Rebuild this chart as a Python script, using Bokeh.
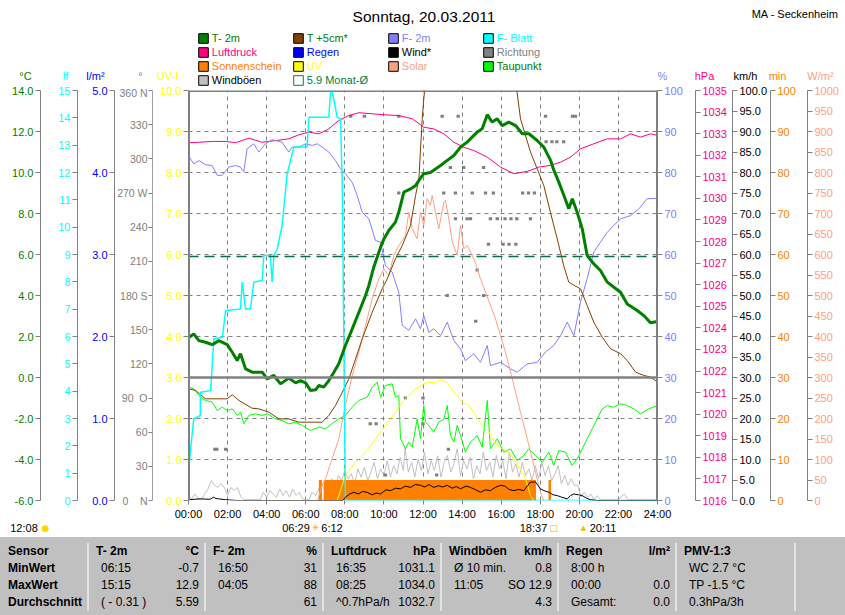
from bokeh.plotting import figure
from bokeh.models import Range1d, FixedTicker, Span, Label, Legend, LegendItem, Div, LinearAxis
from bokeh.layouts import column, row
from bokeh.embed import file_html
from bokeh.resources import INLINE

FONT = "Liberation Sans"
GRAY = "#808080"
NB = "\u00a0"

# ---------------- data ----------------
hour_ticks = [0, 2, 4, 6, 8, 10, 12, 14, 16, 18, 20, 22, 24]
hour_labels = ["00:00", "02:00", "04:00", "06:00", "08:00", "10:00", "12:00",
               "14:00", "16:00", "18:00", "20:00", "22:00", "24:00"]

temp_ticks = [-6, -4, -2, 0, 2, 4, 6, 8, 10, 12, 14]
lf_ticks = list(range(0, 16))
rain_ticks = [0, 1, 2, 3, 4, 5]
deg_ticks = [0, 30, 60, 90, 120, 150, 180, 210, 240, 270, 300, 330, 360]
deg_labels = ["0" + NB * 4 + "N", "30", "60", "90" + NB * 2 + "O", "120", "150", "180 S", "210", "240",
              "270 W", "300", "330", "360 N"]
uv_ticks = [0, 1, 2, 3, 4, 5, 6, 7, 8, 9, 10]
pct_ticks = [0, 10, 20, 30, 40, 50, 60, 70, 80, 90, 100]
hpa_ticks = list(range(1016, 1036))
kmh_ticks = list(range(0, 101, 5))
min_ticks = [0, 10, 20, 30, 40, 50, 60, 70, 80, 90, 100]
wm2_ticks = list(range(0, 1001, 50))

# T- 2m  (hour, °C)
t2m = [(0.0, 1.94), (0.27, 2.13), (0.53, 1.8), (0.87, 1.72), (1.21, 1.6), (1.55, 1.8), (1.98, 1.6),
       (2.24, 1.23), (2.49, 0.83), (2.66, 1.16), (2.92, 0.42), (3.26, 0.26), (3.77, 0.26), (4.03, -0.07),
       (4.37, 0.1), (4.71, -0.31), (5.13, -0.03), (5.48, -0.26), (5.73, -0.15), (5.99, -0.26),
       (6.24, -0.63), (6.5, -0.6), (6.67, -0.39), (6.92, -0.47), (7.18, -0.15), (7.44, 0.26),
       (7.69, 0.67), (8.03, 1.56), (8.38, 2.37), (8.72, 3.18), (9.06, 4.0), (9.23, 4.49), (9.48, 5.38),
       (9.83, 6.36), (10.0, 6.76), (10.25, 7.17), (10.59, 7.58), (10.76, 8.06), (11.02, 9.04),
       (11.36, 9.2), (11.62, 9.37), (11.79, 9.61), (12.04, 9.94), (12.38, 10.0), (12.9, 10.34),
       (13.24, 10.59), (13.58, 10.83), (13.92, 11.24), (14.26, 11.48), (14.77, 11.97), (15.03, 12.13),
       (15.29, 12.82), (15.54, 12.46), (15.8, 12.62), (16.05, 12.29), (16.39, 12.46), (16.74, 12.29),
       (17.08, 11.89), (17.42, 11.89), (17.84, 11.56), (18.18, 11.24), (18.53, 10.59), (18.7, 10.1),
       (18.95, 9.53), (19.21, 8.88), (19.46, 8.23), (19.64, 8.72), (19.89, 8.06), (20.15, 7.25),
       (20.4, 5.95), (20.74, 5.54), (21.08, 5.22), (21.43, 4.65), (21.77, 4.4), (22.11, 4.16),
       (22.45, 3.59), (22.96, 3.27), (23.3, 3.02), (23.64, 2.67), (24.0, 2.73)]

# T +5cm* (hour, °C)
t5cm = [(0.0, -0.55), (0.36, -0.63), (0.87, -1.04), (1.98, -1.04), (2.24, -0.84), (2.58, -1.12),
        (3.26, -1.5), (3.6, -1.53), (4.11, -1.69), (4.62, -2.02), (5.13, -2.02), (5.65, -2.18),
        (6.84, -2.18), (7.18, -1.85), (7.52, -1.37), (7.87, -0.72), (8.2, -0.08), (8.55, 0.91),
        (8.89, 1.89), (9.4, 3.18), (9.91, 4.33), (10.17, 4.81), (10.59, 5.79), (10.94, 6.44),
        (11.36, 7.41), (11.62, 8.88), (11.79, 9.69), (11.96, 12.6), (12.04, 13.6), (12.3, 16.0),
        (12.8, 19.5), (13.5, 22.0), (14.3, 23.5), (15.2, 22.5), (16.0, 19.5), (16.6, 15.5),
        (16.8, 14.0), (16.99, 12.62), (17.5, 11.0), (18.18, 9.37), (18.52, 8.06), (18.87, 6.76),
        (19.2, 5.46), (19.46, 4.65), (19.72, 4.5), (20.06, 4.33), (20.4, 3.51), (20.74, 2.7),
        (21.17, 1.97), (21.6, 1.4), (22.11, 1.16), (22.45, 0.83), (22.88, 0.26), (23.3, 0.1),
        (23.64, 0.02), (24.0, -0.22)]

# Taupunkt (hour, °C)
taupunkt = [(0.0, -0.47), (0.27, -0.55), (0.61, -0.96), (0.87, -1.12), (1.21, -1.2), (1.47, -1.61),
            (1.72, -1.45), (1.98, -1.61), (2.24, -1.53), (2.49, -1.85), (2.66, -1.69), (2.83, -2.26),
            (3.09, -1.85), (3.43, -1.77), (3.77, -1.85), (4.03, -1.77), (4.45, -2.02), (4.79, -2.1),
            (5.13, -2.26), (5.48, -2.18), (5.82, -2.34), (6.24, -2.59), (6.67, -2.42), (7.01, -2.5),
            (7.44, -2.18), (7.69, -2.02), (8.03, -1.85), (8.38, -1.45), (8.72, -1.12), (9.14, -0.96),
            (9.4, -0.47), (9.66, -0.23), (9.83, -0.96), (10.08, -0.39), (10.42, -0.31), (10.59, -0.96),
            (10.76, -0.88), (10.85, -2.99), (11.1, -3.48), (11.27, -3.15), (11.45, -3.4), (11.7, -2.02),
            (11.87, -2.99), (12.04, -1.37), (12.13, -2.18), (12.3, -2.34), (12.55, -2.67), (12.81, -2.18),
            (13.07, -2.02), (13.24, -1.37), (13.41, -2.83), (13.58, -3.15), (13.75, -2.34), (13.92, -2.83),
            (14.17, -3.64), (14.43, -3.15), (14.77, -2.83), (15.03, -3.4), (15.29, -1.12), (15.45, -3.48),
            (15.8, -2.99), (16.13, -3.64), (16.48, -3.48), (16.82, -4.05), (17.16, -3.8), (17.41, -3.48),
            (17.76, -3.8), (18.1, -4.13), (18.44, -3.64), (18.69, -4.29), (18.95, -3.56), (19.29, -3.64),
            (19.63, -4.29), (19.89, -3.97), (20.15, -3.48), (20.4, -2.99), (20.66, -2.5), (20.91, -2.02),
            (21.17, -1.53), (21.43, -1.37), (21.76, -1.45), (22.11, -1.28), (22.45, -1.37), (22.79, -1.53),
            (23.13, -1.77), (23.55, -1.53), (23.98, -1.37)]

# F- 2m (hour, %)
f2m = [(0.0, 84.1), (0.27, 82.1), (0.53, 82.9), (0.87, 81.9), (1.21, 81.7), (1.47, 79.3), (1.72, 79.3),
       (2.06, 81.3), (2.41, 81.7), (2.66, 81.3), (2.83, 80.2), (3.0, 85.8), (3.34, 87.0), (3.6, 85.0),
       (3.94, 87.0), (4.28, 88.0), (4.79, 87.4), (5.13, 85.0), (5.31, 86.2), (5.65, 86.2), (5.99, 87.0),
       (6.33, 86.6), (6.59, 87.0), (6.84, 86.2), (7.18, 85.0), (7.52, 82.9), (7.78, 80.9), (8.03, 79.7),
       (8.38, 77.6), (8.63, 74.4), (8.89, 70.3), (9.23, 68.7), (9.57, 63.4), (9.83, 63.0), (10.08, 57.3),
       (10.42, 55.7), (10.76, 50.8), (10.94, 42.7), (11.27, 41.5), (11.62, 44.3), (11.87, 41.9),
       (12.04, 45.1), (12.3, 41.0), (12.55, 41.9), (12.9, 40.2), (13.24, 43.5), (13.58, 39.0),
       (13.92, 37.0), (14.17, 34.1), (14.6, 35.8), (14.94, 33.7), (15.29, 37.8), (15.45, 32.9),
       (15.97, 33.7), (16.48, 32.1), (16.82, 31.3), (17.33, 33.3), (17.84, 33.7), (18.27, 36.2),
       (18.69, 37.8), (19.04, 40.2), (19.38, 43.5), (19.72, 40.2), (20.06, 48.4), (20.4, 54.1),
       (20.74, 60.6), (21.08, 63.0), (21.43, 65.4), (21.76, 67.1), (22.11, 68.7), (22.62, 69.5),
       (23.04, 71.1), (23.47, 73.6), (23.98, 73.7)]

# F- Blatt (hour, leaf wetness)
fblatt = [(0.0, 0.98), (0.09, 1.77), (0.27, 2.99), (0.6, 3.11), (0.61, 3.96), (1.13, 4.02), (1.3, 5.92),
          (1.73, 5.97), (1.9, 6.95), (2.66, 7.01), (2.75, 7.99), (2.92, 7.01), (3.17, 7.01), (3.34, 7.99),
          (3.77, 8.05), (3.85, 8.96), (4.19, 8.96), (4.28, 7.99), (4.37, 8.96), (4.54, 9.2), (4.79, 10.06),
          (5.05, 11.95), (5.39, 12.93), (6.07, 12.93), (6.16, 14.02), (7.18, 14.02), (7.27, 14.94),
          (7.35, 15.0), (7.61, 14.02), (7.78, 13.96), (7.87, 11.52), (8.03, 0.06), (8.1, 0.0), (24.0, 0.0)]

# Luftdruck (hour, hPa)
luftdruck = [(0.0, 1032.58), (0.53, 1032.6), (1.21, 1032.64), (1.9, 1032.64), (2.41, 1032.58),
             (3.1, 1032.79), (3.77, 1032.6), (4.45, 1032.68), (5.13, 1032.76), (5.65, 1032.95),
             (6.16, 1033.07), (6.67, 1032.99), (7.18, 1033.22), (7.69, 1033.61), (8.2, 1033.84),
             (8.72, 1033.97), (9.4, 1033.92), (10.08, 1033.87), (10.76, 1033.84), (11.45, 1033.69),
             (12.04, 1033.3), (12.55, 1033.22), (13.07, 1032.99), (13.58, 1032.6), (14.09, 1032.37),
             (14.6, 1032.22), (15.29, 1031.91), (15.97, 1031.45), (16.65, 1031.14), (17.33, 1031.25),
             (17.92, 1031.45), (18.52, 1031.53), (19.04, 1031.68), (19.55, 1031.91), (20.06, 1032.3),
             (20.74, 1032.53), (21.43, 1032.76), (22.11, 1032.76), (22.62, 1032.99), (23.13, 1032.84),
             (23.64, 1032.99), (24.0, 1032.92)]

# Solar (hour, W/m²)
solar = [(6.6, 0), (6.84, 37), (7.01, 53), (7.35, 102), (7.69, 150), (8.03, 232), (8.38, 305), (8.72, 362),
         (9.06, 427), (9.4, 492), (9.74, 541), (10.0, 565), (10.25, 549), (10.51, 598), (10.76, 622),
         (11.1, 646), (11.27, 703), (11.45, 663), (11.7, 638), (11.87, 703), (12.04, 671), (12.21, 736),
         (12.38, 720), (12.47, 744), (12.64, 703), (12.81, 663), (13.07, 728), (13.15, 732), (13.32, 687),
         (13.5, 630), (13.75, 598), (13.92, 671), (14.09, 614), (14.26, 622), (14.43, 606), (14.68, 581),
         (14.94, 541), (15.2, 508), (15.45, 476), (15.71, 443), (15.97, 402), (16.22, 362), (16.48, 313),
         (16.74, 264), (16.99, 215), (17.25, 167), (17.5, 118), (17.76, 69), (18.01, 20), (18.18, 0)]

# UV (hour, UV-index)
uv = [(7.6, 0.0), (7.69, 0.12), (8.03, 0.61), (8.55, 0.93), (9.06, 1.18), (9.57, 1.5), (10.08, 1.83),
      (10.59, 2.15), (10.94, 2.4), (11.27, 2.56), (11.62, 2.72), (12.04, 2.85), (12.3, 2.89), (12.55, 2.87),
      (12.9, 2.93), (13.24, 2.89), (13.5, 2.68), (13.75, 2.56), (14.0, 2.4), (14.35, 2.32), (14.69, 2.07),
      (15.03, 1.83), (15.37, 1.67), (15.71, 1.38), (16.05, 1.26), (16.39, 1.18), (16.74, 0.93),
      (17.08, 0.69), (17.25, 0.53), (17.5, 0.12), (17.67, 0.0)]

# Wind* (hour, km/h)
wind = [(0.0, 0.2), (0.6, 0.4), (1.1, 0.3), (1.28, 0.8), (1.4, 0.5), (1.54, 0.4), (1.89, 0.2), (2.49, 0.0),
        (7.9, 0.0), (8.03, 0.8), (8.25, 1.6), (8.46, 2.0), (8.7, 1.6), (8.9, 2.2), (9.14, 2.0), (9.4, 1.4),
        (9.6, 1.8), (9.83, 1.6), (10.1, 2.6), (10.34, 2.4), (10.6, 3.0), (10.85, 2.85), (11.1, 3.5),
        (11.36, 3.2), (11.6, 3.9), (11.87, 3.7), (12.1, 3.3), (12.3, 3.9), (12.55, 3.2), (12.8, 3.6),
        (13.0, 3.3), (13.24, 3.7), (13.5, 3.0), (13.7, 3.4), (13.92, 2.85), (14.2, 3.5), (14.43, 3.2),
        (14.7, 2.6), (14.94, 2.0), (15.2, 2.6), (15.45, 2.4), (15.7, 3.2), (15.97, 3.7), (16.2, 3.5),
        (16.4, 2.7), (16.65, 2.4), (16.9, 2.7), (17.16, 2.4), (17.35, 3.6), (17.5, 4.5), (17.76, 4.5),
        (18.01, 2.85), (18.2, 2.4), (18.44, 2.0), (18.65, 1.4), (18.87, 1.2), (19.1, 0.8), (19.38, 0.4),
        (19.55, 1.2), (19.72, 1.6), (19.95, 1.4), (20.15, 1.2), (20.35, 0.6), (20.57, 0.2), (20.91, 0.0),
        (24.0, 0.0)]

# Windböen (hour, km/h)
boeen = [(0.0, 1.2), (0.17, 0.5), (0.33, 1.6), (0.5, 0.4), (0.67, 0.3), (0.83, 1.6), (1.0, 2.8), (1.17, 4.9),
         (1.33, 3.7), (1.5, 3.2), (1.67, 4.1), (1.83, 3.2), (2.0, 1.2), (2.17, 3.2), (2.33, 2.4), (2.5, 3.2),
         (2.67, 1.0), (2.83, 0.2), (3.0, 0.2), (3.5, 0.2), (3.67, 0.2), (3.83, 2.0), (4.0, 0.8), (4.17, 2.4),
         (4.33, 1.6), (4.5, 0.8), (4.67, 2.8), (4.83, 1.2), (5.0, 2.4), (5.17, 0.8), (5.33, 2.8), (5.5, 1.2),
         (5.67, 2.0), (5.83, 0.4), (6.0, 0.2), (6.17, 0.2), (6.33, 2.0), (6.5, 1.2), (6.67, 2.8), (6.83, 4.1),
         (7.0, 2.0), (7.17, 4.1), (7.33, 5.3), (7.5, 3.2), (7.67, 6.1), (7.83, 4.9), (8.0, 7.3), (8.17, 5.3),
         (8.33, 6.5), (8.5, 4.1), (8.67, 7.7), (8.83, 5.7), (9.0, 8.1), (9.17, 4.9), (9.33, 6.9), (9.5, 9.3),
         (9.67, 5.3), (9.83, 7.7), (10.0, 6.1), (10.17, 9.7), (10.33, 5.7), (10.5, 8.5), (10.67, 6.5),
         (10.83, 10.5), (11.0, 7.3), (11.08, 12.9), (11.25, 6.9), (11.42, 9.3), (11.58, 5.7), (11.75, 10.1),
         (11.92, 7.3), (12.08, 11.8), (12.25, 6.5), (12.42, 9.7), (12.58, 7.3), (12.75, 10.9), (12.92, 5.7),
         (13.08, 9.3), (13.25, 11.0), (13.42, 6.9), (13.58, 8.9), (13.75, 12.6), (13.92, 6.1), (14.08, 9.7),
         (14.25, 7.7), (14.42, 10.5), (14.58, 5.3), (14.75, 8.5), (14.92, 6.5), (15.08, 11.8), (15.25, 7.3),
         (15.42, 9.3), (15.58, 5.7), (15.75, 11.0), (15.92, 7.7), (16.08, 9.7), (16.25, 5.3), (16.42, 11.8),
         (16.58, 6.9), (16.75, 8.9), (16.92, 5.7), (17.08, 9.3), (17.25, 6.1), (17.42, 7.7), (17.58, 4.9),
         (17.75, 8.5), (17.92, 5.3), (18.08, 9.3), (18.25, 6.1), (18.42, 8.5), (18.58, 4.9), (18.75, 6.5),
         (18.92, 8.5), (19.08, 4.1), (19.25, 6.1), (19.42, 3.7), (19.58, 5.3), (19.75, 3.7), (19.92, 3.7),
         (20.08, 0.8), (20.25, 2.0), (20.42, 0.8), (20.58, 1.6), (20.75, 0.2), (20.92, 1.2), (21.08, 0.2),
         (22.0, 0.2), (22.3, 1.6), (22.5, 0.2), (24.0, 0.2)]

# Richtung (hour, degrees)
richtung = [(1.35, 45), (1.45, 45), (1.9, 45), (8.3, 337.5), (9.0, 337.5), (9.3, 67.5), (9.6, 67.5),
            (10.08, 22.5), (10.76, 337.5), (10.76, 270), (11.1, 90), (12.0, 90), (12.0, 67.5), (12.7, 22.5),
            (12.98, 337.5), (13.06, 270), (13.24, 180), (13.3, 45), (13.4, 292.5), (13.66, 270),
            (13.66, 247.5), (13.8, 337.5), (14.08, 292.5), (14.26, 247.5), (14.43, 247.5), (14.52, 270),
            (14.7, 157.5), (14.77, 202.5), (15.1, 292.5), (15.1, 180), (15.2, 270), (15.35, 225),
            (15.45, 247.5), (15.6, 270), (15.8, 247.5), (16.1, 225), (16.2, 247.5), (16.4, 225), (16.5, 247.5),
            (16.75, 225), (16.8, 247.5), (17.1, 270), (17.4, 270), (17.5, 247.5), (17.7, 270), (18.27, 337.5),
            (18.3, 315), (18.6, 315), (18.85, 315), (19.2, 315), (19.65, 337.5), (19.8, 337.5)]

# Sonnenschein (start hour, end hour, minutes)
sun_start = [6.67, 6.92, 18.42]
sun_end = [6.83, 17.78, 18.55]
sun_min = [5, 5, 5]

monat_mean = 5.9

# table below the chart
table_head = ["Sensor", ("T- 2m", "°C"), ("F- 2m", "%"), ("Luftdruck", "hPa"), ("Windböen", "km/h"),
              ("Regen", "l/m²"), ("PMV-1:3", "")]
table_rows = [
    ["MinWert", ("06:15", "-0.7"), ("16:50", "31"), ("16:35", "1031.1"), ("Ø 10 min.", "0.8"),
     ("8:00 h", ""), ("WC 2.7 °C", "")],
    ["MaxWert", ("15:15", "12.9"), ("04:05", "88"), ("08:25", "1034.0"), ("11:05", "SO 12.9"),
     ("00:00", "0.0"), ("TP -1.5 °C", "")],
    ["Durchschnitt", ("( - 0.31 )", "5.59"), ("", "61"), ("^0.7hPa/h", "1032.7"), ("", "4.3"),
     ("Gesamt:", "0.0"), ("0.3hPa/3h", "")],
]


def xs(pairs):
    return [a for a, b in pairs]


def ys(pairs):
    return [b for a, b in pairs]


# ---------------- geometry (page pixels; Bokeh's page has no body margin) ----------------
W_TOTAL = 845
HEAD_H = 86                  # header: title, legend, unit labels
PLOT_H = 436                 # row with axes and plot
TOP_B, BOT_B = 4, 22         # -> frame from y=90 to y=500
STRIP_H = 15                 # sunrise / sunset strip
TABLE_H = 78
STRIP_TOP = HEAD_H + PLOT_H


def base_fig(width, height, **kw):
    return figure(width=width, height=height, output_backend="svg", toolbar_location=None,
                  outline_line_color=None, background_fill_color="white",
                  border_fill_color="white", **kw)


def style_axis(ax, ticks, labels, color, size="11px", standoff=2, tick_out=5):
    ax.ticker = FixedTicker(ticks=ticks)
    ax.major_label_overrides = dict(zip(ticks, labels))
    ax.major_label_text_color = color
    ax.major_label_text_font = FONT
    ax.major_label_text_font_size = size
    ax.major_label_standoff = standoff
    ax.axis_line_color = GRAY
    ax.major_tick_line_color = GRAY
    ax.major_tick_in = 0
    ax.major_tick_out = tick_out
    ax.minor_tick_line_color = None


def axis_fig(width, side, rng, ticks, labels, color, size="11px", standoff=2, tick_out=5):
    if side == "left":
        kw = dict(y_axis_location="left", min_border_left=width - 1, min_border_right=0)
    else:
        kw = dict(y_axis_location="right", min_border_left=0, min_border_right=width - 1)
    f = base_fig(width, PLOT_H, x_range=Range1d(0, 1), y_range=Range1d(*rng), x_axis_location=None,
                 min_border_top=TOP_B, min_border_bottom=BOT_B, **kw)
    style_axis(f.yaxis[0], ticks, labels, color, size, standoff, tick_out)
    f.grid.visible = False
    return f


# ---------------- axes at the sides ----------------
f_temp = axis_fig(41, "left", (-6, 14), temp_ticks, [f"{t:.1f}" for t in temp_ticks], "#008000")
f_lf = axis_fig(37, "left", (0, 15), lf_ticks, [str(t) for t in lf_ticks], "#00ffff")
f_rain = axis_fig(37, "left", (0, 5), rain_ticks, [f"{t:.1f}" for t in rain_ticks], "#0000ff")
f_deg = axis_fig(37, "left", (0, 360), deg_ticks, deg_labels, GRAY, size="10.5px", standoff=1, tick_out=4)
f_hpa = axis_fig(38, "right", (1016, 1035), hpa_ticks, [str(t) for t in hpa_ticks], "#ff0080")
f_kmh = axis_fig(37, "right", (0, 100), kmh_ticks, [f"{t:.1f}" for t in kmh_ticks], "#000000")
f_min = axis_fig(37, "right", (0, 100), min_ticks, [str(t) for t in min_ticks], "#ff8000")
f_wm2 = axis_fig(39, "right", (0, 1000), wm2_ticks, [str(t) for t in wm2_ticks], "#ffa080")

# ---------------- main plot ----------------
MAIN_W = 36 + 469 + 37
p = base_fig(MAIN_W, PLOT_H, x_range=Range1d(0, 24), y_range=Range1d(0, 10),
             min_border_left=36, min_border_right=37, min_border_top=TOP_B, min_border_bottom=BOT_B)
p.extra_y_ranges = {
    "temp": Range1d(-6, 14), "lf": Range1d(0, 15), "deg": Range1d(0, 360), "pct": Range1d(0, 100),
    "hpa": Range1d(1016, 1035), "kmh": Range1d(0, 100), "min": Range1d(0, 100), "wm2": Range1d(0, 1000),
}
style_axis(p.yaxis[0], uv_ticks, [f"{t:.1f}" for t in uv_ticks], "#ffff00")
pct_axis = LinearAxis(y_range_name="pct")
style_axis(pct_axis, pct_ticks, [str(t) for t in pct_ticks], "#8080ff")
p.add_layout(pct_axis, "right")

xa = p.xaxis[0]
xa.ticker = FixedTicker(ticks=hour_ticks)
xa.major_label_overrides = dict(zip(hour_ticks, hour_labels))
xa.major_label_text_font = FONT
xa.major_label_text_font_size = "11px"
xa.major_label_text_color = "black"
xa.major_label_standoff = 3
xa.axis_line_color = None
xa.major_tick_line_color = GRAY
xa.major_tick_in = 0
xa.major_tick_out = 4
xa.minor_tick_line_color = None

for g in (p.xgrid[0], p.ygrid[0]):
    g.grid_line_color = GRAY
    g.grid_line_dash = "4 4"
    g.grid_line_width = 1

p.line(xs(boeen), ys(boeen), y_range_name="kmh", line_color="#c0c0c0", line_width=1)
p.quad(left=sun_start, right=sun_end, bottom=0, top=sun_min, y_range_name="min",
       fill_color="#ff8000", line_color=None)
p.rect(x=xs(richtung), y=ys(richtung), width=0.17, height=3, height_units="screen",
       y_range_name="deg", fill_color=GRAY, line_color=None)
p.line(xs(luftdruck), ys(luftdruck), y_range_name="hpa", line_color="#ff0080", line_width=1)
p.line(xs(f2m), ys(f2m), y_range_name="pct", line_color="#8080ff", line_width=1)
p.line(xs(taupunkt), ys(taupunkt), y_range_name="temp", line_color="#00ff00", line_width=1)
p.line(xs(solar), ys(solar), y_range_name="wm2", line_color="#ffa080", line_width=1)
p.line(xs(uv), ys(uv), line_color="#ffff00", line_width=1)
p.line(xs(t5cm), ys(t5cm), y_range_name="temp", line_color="#804000", line_width=1)
p.line(xs(fblatt), ys(fblatt), y_range_name="lf", line_color="#00ffff", line_width=1.5)
p.line(xs(wind), ys(wind), y_range_name="kmh", line_color="#000000", line_width=1)
p.line(xs(t2m), ys(t2m), y_range_name="temp", line_color="#008000", line_width=3)

p.add_layout(Span(location=monat_mean, dimension="width", y_range_name="temp",
                  line_color="#007040", line_width=1.5, line_dash="10 6"))
p.add_layout(Span(location=0, dimension="width", y_range_name="temp", line_color=GRAY, line_width=2.5))
p.add_layout(Span(location=p.x_range.start, dimension="height", line_color=GRAY, line_width=3))
p.add_layout(Span(location=p.x_range.end, dimension="height", line_color=GRAY, line_width=3))
p.add_layout(Span(location=p.y_range.end, dimension="width", line_color=GRAY, line_width=3))

# ---------------- header: title, legend, unit labels (pixel coordinates) ----------------
head = base_fig(W_TOTAL, HEAD_H, x_range=Range1d(0, W_TOTAL), y_range=Range1d(HEAD_H, 0),
                x_axis_location=None, y_axis_location=None,
                min_border_left=0, min_border_right=0, min_border_top=0, min_border_bottom=0)
head.grid.visible = False


def head_text(text, X, Y, color="black", size="11px", align="center"):
    head.add_layout(Label(x=X, y=Y, text=text, text_color=color, text_font=FONT,
                          text_font_size=size, text_align=align, text_baseline="middle"))


head_text("Sonntag, 20.03.2011", 423.5, 15.5, size="15.5px")
head_text("MA - Seckenheim", 838, 13, align="right")

units = [("°C", 25, "#008000"), ("lf", 65, "#00ffff"), ("l/m²", 95, "#0000ff"), ("°", 140, GRAY),
         ("UV-I", 167, "#ffff00"), ("%", 662, "#8080ff"), ("hPa", 704, "#ff0080"),
         ("km/h", 745, "#000000"), ("min", 777, "#ff8000"), ("W/m²", 820, "#ffa080")]
for txt, X, col in units:
    head_text(txt, X, 75, color=col)

legend_cols = [
    [("T- 2m", "#008000", "#008000"), ("Luftdruck", "#ff0080", "#ff0080"),
     ("Sonnenschein", "#ff8000", "#ff8000"), ("Windböen", "#c0c0c0", "#000000")],
    [("T +5cm*", "#804000", "#008000"), ("Regen", "#0000ff", "#0000ff"),
     ("UV", "#ffff00", "#ffff00"), (f"{monat_mean} Monat-Ø", "#ffffff", "#008040")],
    [("F- 2m", "#8080ff", "#8080ff"), ("Wind*", "#000000", "#000000"),
     ("Solar", "#ffa080", "#ffa080")],
    [("F- Blatt", "#00ffff", "#00ffff"), ("Richtung", GRAY, GRAY),
     ("Taupunkt", "#00ff00", "#008000")],
]
col_box_left = [198, 293, 388, 483]
row_center = [38, 52, 66, 80]
for ci, col in enumerate(legend_cols):
    for ri, (name, box, txt) in enumerate(col):
        outline = "#008040" if box == "#ffffff" else "black"
        r = head.quad(left=[-20], right=[-10], bottom=[-20], top=[-10], fill_color=box,
                      line_color=outline, line_width=1)
        leg = Legend(items=[LegendItem(label=name, renderers=[r])],
                     location=(col_box_left[ci] - 1.2, HEAD_H - (row_center[ri] + 6)),
                     padding=0, margin=0, spacing=0, border_line_color=None,
                     background_fill_alpha=0, label_text_font=FONT, label_text_font_size="11px",
                     label_text_color=txt, glyph_width=12, glyph_height=12, label_height=12,
                     label_standoff=3)
        head.add_layout(leg, "center")

# ---------------- strip: sunrise / sunset ----------------
strip = base_fig(W_TOTAL, STRIP_H, x_range=Range1d(0, W_TOTAL), y_range=Range1d(STRIP_H, 0),
                 x_axis_location=None, y_axis_location=None,
                 min_border_left=0, min_border_right=0, min_border_top=0, min_border_bottom=0)
strip.grid.visible = False


def strip_text(text, X, color="black", size="11px", font=FONT):
    strip.add_layout(Label(x=X, y=527 - STRIP_TOP, text=text, text_color=color, text_font=font,
                           text_font_size=size, text_align="center", text_baseline="middle"))


strip_text("12:08", 23.5)
strip_text("●", 45, color="#ffd700", size="9px", font="DejaVu Sans")
strip_text("06:29", 295.5)
strip_text("☀", 315, color="#e8c000", size="10px", font="DejaVu Sans")
strip_text("6:12", 331.5)
strip_text("18:37", 533)
strip_text("□", 553, color="#e8c000", size="9px", font="DejaVu Sans")
strip_text("▲", 583, color="#e8c000", size="7px", font="DejaVu Sans")
strip_text("20:11", 602.5)

# ---------------- table ----------------
group_w = [117, 118, 118, 117, 118, 119]
cell = "padding:0;height:17px;line-height:17px;white-space:nowrap;overflow:hidden;"
sep = "border-left:2px solid #e2e2e2;"
html = ["<table style=\"border-collapse:collapse;table-layout:fixed;width:845px;background:#c0c0c0;"
        "font-family:'Liberation Sans',Arial,sans-serif;font-size:12px;color:#000;margin:0\">"]
html.append("<colgroup><col style='width:88px'>")
for w in group_w:
    html.append(f"<col style='width:{w - 50}px'><col style='width:50px'>")
html.append("<col style='width:50px'></colgroup>")
html.append("<tr><td colspan='14' style='height:6px;padding:0'></td></tr>")
rows_all = [table_head] + table_rows
for ri, trow in enumerate(rows_all):
    html.append("<tr>")
    html.append(f"<td style='{cell}padding-left:8px;font-weight:bold'>{trow[0]}</td>")
    for left, right in trow[1:]:
        lw = "bold" if ri == 0 else "normal"
        lp = 7 if ri == 0 else 12
        html.append(f"<td style='{cell}{sep}padding-left:{lp}px;font-weight:{lw}'>{left}</td>")
        html.append(f"<td style='{cell}text-align:right;padding-right:5px;font-weight:{lw}'>{right}</td>")
    html.append(f"<td style='{cell}{sep}'></td>")
    html.append("</tr>")
html.append("</table>")
div = Div(text="".join(html), width=W_TOTAL, height=TABLE_H, margin=0,
          styles={"overflow": "hidden", "background": "#c0c0c0"})

plot_row = row(f_temp, f_lf, f_rain, f_deg, p, f_hpa, f_kmh, f_min, f_wm2, spacing=0)
layout = column(head, plot_row, strip, div, spacing=0)
open("out.html", "w").write(file_html(layout, INLINE))
